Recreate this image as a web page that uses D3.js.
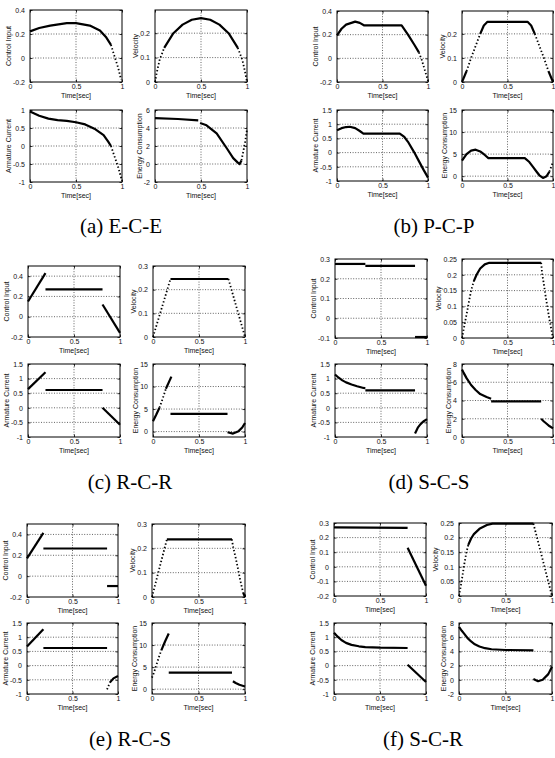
<!DOCTYPE html>
<html>
<head>
<meta charset="utf-8">
<script src="https://cdn.jsdelivr.net/npm/d3@7"></script>
<style>
body { margin: 0; background: #fff; }
svg { display: block; }
.grid { stroke: #222; stroke-width: 0.7; stroke-dasharray: 1,1.6; }
.frame { fill: none; stroke: #000; stroke-width: 1; }
.lbl { font-family: Arial, "Liberation Sans", sans-serif; font-size: 7px; fill: #111; }
.cap { font-family: "Liberation Serif", "Times New Roman", serif; font-size: 21px; fill: #000; }
</style>
</head>
<body>
<svg></svg>
<script>
var timeTicks = [0, 0.5, 1];
var yNames = ["Control Input", "Velocity", "Armature Current", "Energy Consumption"];
var captions = ["(a) E-C-E", "(b) P-C-P", "(c) R-C-R", "(d) S-C-S", "(e) R-C-S", "(f) S-C-R"];

// y ranges and ticks: input, velocity, current, energy
var eceRange = [[-0.2, 0.4], [0, 0.295], [-1, 1], [-2, 6]];
var eceTicks = [[-0.2, 0, 0.2, 0.4], [0, 0.1, 0.2], [-1, -0.5, 0, 0.5, 1], [-2, 0, 2, 4, 6]];
var pcpRange = [[-0.2, 0.4], [0, 0.295], [-1, 1.5], [-1.1, 15]];
var pcpTicks = [[-0.2, 0, 0.2, 0.4], [0, 0.1, 0.2], [-1, -0.5, 0, 0.5, 1, 1.5], [0, 5, 10, 15]];
var rcrRange = [[-0.2, 0.5], [0, 0.3], [-1, 1.5], [-1.2, 15]];
var rcrTicks = [[-0.2, 0, 0.2, 0.4], [0, 0.1, 0.2, 0.3], [-1, -0.5, 0, 0.5, 1, 1.5], [0, 5, 10, 15]];
var scsRange = [[-0.1, 0.3], [0, 0.25], [-1, 1.5], [0, 8]];
var scsTicks = [[-0.1, 0, 0.1, 0.2, 0.3], [0, 0.05, 0.1, 0.15, 0.2, 0.25], [-1, -0.5, 0, 0.5, 1, 1.5], [0, 2, 4, 6, 8]];
var rcsRange = [[-0.2, 0.5], [0, 0.3], [-1, 1.5], [-1.1, 15]];
var rcsTicks = [[-0.2, 0, 0.2, 0.4], [0, 0.1, 0.2, 0.3], [-1, -0.5, 0, 0.5, 1, 1.5], [0, 5, 10, 15]];
var scrRange = [[-0.2, 0.3], [0, 0.25], [-1, 1.5], [-2, 8]];
var scrTicks = [[-0.2, -0.1, 0, 0.1, 0.2, 0.3], [0, 0.05, 0.1, 0.15, 0.2, 0.25], [-1, -0.5, 0, 0.5, 1, 1.5], [-2, 0, 2, 4, 6, 8]];

// curves: each is a list of pieces, each piece a list of [time, value]
var eceInput = [[[0, 0.222], [0.1, 0.25], [0.22, 0.27], [0.4, 0.29], [0.5, 0.29], [0.65, 0.27], [0.76, 0.23], [0.83, 0.17], [0.88, 0.11], [0.92, 0.01], [0.96, -0.085], [0.99, -0.18]]];
var eceVelocity = [[[0, 0], [0.02, 0.04], [0.05, 0.09], [0.1, 0.14], [0.2, 0.2], [0.3, 0.235], [0.4, 0.255], [0.5, 0.262], [0.6, 0.255], [0.7, 0.235], [0.8, 0.2], [0.9, 0.14], [0.95, 0.09], [0.98, 0.04], [1, 0]]];
var eceCurrent = [[[0, 0.96], [0.1, 0.84], [0.2, 0.76], [0.3, 0.72], [0.4, 0.7], [0.5, 0.66], [0.6, 0.6], [0.7, 0.48], [0.8, 0.3], [0.85, 0.12], [0.88, 0.0], [0.92, -0.3], [0.96, -0.6], [1, -0.97]]];
var eceEnergy = [[[0, 5.1], [0.25, 5.0], [0.47, 4.85]],
                 [[0.49, 4.55], [0.56, 4.3], [0.67, 3.4], [0.78, 1.75], [0.85, 0.65], [0.9, 0.15], [0.92, 0.0], [0.94, 0.4], [0.96, 1.4], [0.98, 2.5], [1, 3.8]]];

var pcpInput = [[[0, 0.195], [0.05, 0.25], [0.1, 0.285], [0.2, 0.31], [0.25, 0.3], [0.3, 0.278], [0.71, 0.278], [0.78, 0.2], [0.85, 0.115], [0.9, 0.05], [0.93, -0.01], [1, -0.19]]];
var pcpVelocity = [[[0, 0], [0.05, 0.045], [0.1, 0.1], [0.15, 0.15], [0.2, 0.2], [0.24, 0.235], [0.28, 0.25], [0.72, 0.25], [0.76, 0.235], [0.8, 0.2], [0.85, 0.15], [0.9, 0.1], [0.95, 0.045], [1, 0]]];
var pcpCurrent = [[[0, 0.79], [0.05, 0.86], [0.1, 0.9], [0.14, 0.91], [0.2, 0.86], [0.25, 0.76], [0.29, 0.67], [0.69, 0.67], [0.74, 0.55], [0.78, 0.38], [0.85, 0.0], [0.9, -0.3], [0.95, -0.6], [1, -0.88]]];
var pcpEnergy = [[[0, 3.5], [0.05, 5.0], [0.1, 5.8], [0.15, 6.0], [0.2, 5.6], [0.25, 4.8], [0.29, 4.1], [0.69, 4.1], [0.74, 3.2], [0.78, 2.1], [0.82, 1.0], [0.85, 0.2], [0.89, -0.4], [0.93, 0.0], [0.96, 1.0], [1, 3.2]]];

var rcrInput = [[[0, 0.15], [0.19, 0.43]], [[0.19, 0.27], [0.81, 0.27]], [[0.81, 0.12], [1, -0.16]]];
var rcrVelocity = [[[0, 0], [0.19, 0.245], [0.82, 0.245], [1, 0]]];
var rcrCurrent = [[[0, 0.64], [0.19, 1.22]], [[0.19, 0.61], [0.81, 0.61]], [[0.81, 0.0], [1, -0.58]]];
var rcrEnergy = [[[0, 2.3], [0.036, 3.8], [0.07, 5.3], [0.1, 7.0], [0.14, 9.5], [0.2, 12.2]],
                 [[0.19, 3.95], [0.81, 3.95]],
                 [[0.81, -0.15], [0.87, -0.45], [0.93, 0.1], [0.97, 0.9], [1, 1.9]]];

var scsInput = [[[0, 0.275], [0.33, 0.275]], [[0.33, 0.265], [0.87, 0.265]], [[0.87, -0.095], [1, -0.095]]];
var scsVelocity = [[[0, 0], [0.02, 0.03], [0.04, 0.06], [0.06, 0.09], [0.08, 0.12], [0.1, 0.15], [0.13, 0.18], [0.16, 0.2], [0.2, 0.22], [0.25, 0.233], [0.3, 0.238], [0.87, 0.238], [0.88, 0.205], [0.9, 0.17], [0.92, 0.13], [0.94, 0.095], [0.96, 0.06], [0.98, 0.03], [1, 0]]];
var scsCurrent = [[[0, 1.14], [0.04, 1.03], [0.08, 0.94], [0.12, 0.87], [0.18, 0.8], [0.24, 0.74], [0.31, 0.68], [0.33, 0.67]],
                  [[0.33, 0.6], [0.87, 0.6]],
                  [[0.87, -0.88], [0.9, -0.68], [0.93, -0.56], [0.96, -0.47], [1, -0.39]]];
var scsEnergy = [[[0, 7.4], [0.02, 7.0], [0.05, 6.45], [0.1, 5.7], [0.15, 5.15], [0.2, 4.7], [0.27, 4.38], [0.32, 4.2]],
                 [[0.32, 3.9], [0.87, 3.9]],
                 [[0.87, 2.0], [0.9, 1.7], [0.93, 1.45], [0.96, 1.2], [1, 0.95]]];

var rcsInput = [[[0, 0.17], [0.18, 0.415]], [[0.18, 0.265], [0.88, 0.265]], [[0.88, -0.095], [1, -0.095]]];
var rcsVelocity = [[[0, 0], [0.16, 0.237], [0.86, 0.237], [0.87, 0.21], [0.9, 0.16], [0.925, 0.115], [0.95, 0.067], [0.98, 0.018], [1, 0]]];
var rcsCurrent = [[[0, 0.67], [0.18, 1.28]], [[0.18, 0.62], [0.88, 0.62]], [[0.88, -0.84], [0.91, -0.6], [0.95, -0.45], [1, -0.37]]];
var rcsEnergy = [[[0, 2.6], [0.02, 3.7], [0.04, 5.0], [0.07, 7.0], [0.1, 8.8], [0.14, 10.8], [0.18, 12.6]],
                 [[0.18, 3.75], [0.86, 3.75]],
                 [[0.87, 1.8], [0.9, 1.4], [0.94, 1.0], [1, 0.6]]];

var scrInput = [[[0, 0.27], [0.8, 0.266]], [[0.8, 0.13], [1, -0.13]]];
var scrVelocity = [[[0, 0], [0.02, 0.035], [0.04, 0.075], [0.06, 0.115], [0.08, 0.15], [0.1, 0.175], [0.13, 0.197], [0.16, 0.212], [0.22, 0.23], [0.3, 0.243], [0.36, 0.248], [0.8, 0.248], [1, 0]]];
var scrCurrent = [[[0, 1.16], [0.04, 1.02], [0.08, 0.9], [0.13, 0.8], [0.19, 0.73], [0.27, 0.68], [0.34, 0.65], [0.5, 0.63], [0.8, 0.62]], [[0.8, 0.03], [1, -0.58]]];
var scrEnergy = [[[0, 7.45], [0.03, 6.9], [0.055, 6.5], [0.09, 5.9], [0.13, 5.4], [0.17, 5.0], [0.22, 4.7], [0.28, 4.45], [0.35, 4.3], [0.5, 4.2], [0.8, 4.15]],
                 [[0.8, 0.1], [0.85, -0.2], [0.9, 0.0], [0.96, 0.8], [1, 1.85]]];

// layout of each group: [x, y, w, h] of the four axes, caption centre
var groups = [
  { curves: [eceInput, eceVelocity, eceCurrent, eceEnergy], range: eceRange, ticks: eceTicks,
    boxes: [[30, 10, 92, 72], [155, 10, 92, 72], [30, 110, 92, 72], [155, 110, 92, 72]], cap: [121, 233] },
  { curves: [pcpInput, pcpVelocity, pcpCurrent, pcpEnergy], range: pcpRange, ticks: pcpTicks,
    boxes: [[337, 11, 91, 71], [462, 11, 91, 71], [337, 110, 91, 71], [462, 110, 91, 71]], cap: [434, 233] },
  { curves: [rcrInput, rcrVelocity, rcrCurrent, rcrEnergy], range: rcrRange, ticks: rcrTicks,
    boxes: [[28, 266, 92, 71], [153, 266, 92, 71], [28, 364, 92, 73], [153, 364, 92, 73]], cap: [130, 489] },
  { curves: [scsInput, scsVelocity, scsCurrent, scsEnergy], range: scsRange, ticks: scsTicks,
    boxes: [[335, 259, 92, 79], [462, 259, 91, 79], [335, 364, 92, 73], [462, 364, 91, 73]], cap: [429, 489] },
  { curves: [rcsInput, rcsVelocity, rcsCurrent, rcsEnergy], range: rcsRange, ticks: rcsTicks,
    boxes: [[27, 524, 91, 73], [152, 524, 93, 73], [27, 623, 91, 71], [152, 623, 93, 71]], cap: [130, 746] },
  { curves: [scrInput, scrVelocity, scrCurrent, scrEnergy], range: scrRange, ticks: scrTicks,
    boxes: [[334, 523, 92, 73], [459, 523, 93, 73], [334, 623, 92, 71], [459, 623, 93, 71]], cap: [423, 746] }
];

var svg = d3.select("svg").attr("width", 555).attr("height", 758);

function fmt(v) { return String(+v.toFixed(3)); }

function drawPanel(box, curve, range, ticks, name) {
  var x = d3.scaleLinear().domain([0, 1]).range([box[0], box[0] + box[2]]);
  var y = d3.scaleLinear().domain(range).range([box[1] + box[3], box[1]]);
  var g = svg.append("g");

  // dotted grid
  g.selectAll(".gx").data(timeTicks.filter(function(t){ return t > 0 && t < 1; }))
    .enter().append("line").attr("class", "grid")
    .attr("x1", function(d){ return x(d); }).attr("x2", function(d){ return x(d); })
    .attr("y1", box[1]).attr("y2", box[1] + box[3]);
  g.selectAll(".gy").data(ticks.filter(function(t){ return t > range[0] && t < range[1]; }))
    .enter().append("line").attr("class", "grid")
    .attr("x1", box[0]).attr("x2", box[0] + box[2])
    .attr("y1", function(d){ return y(d); }).attr("y2", function(d){ return y(d); });

  // axes, ticks pointing in
  var xa = g.append("g").attr("transform", "translate(0," + (box[1] + box[3]) + ")")
    .call(d3.axisBottom(x).tickValues(timeTicks).tickSize(-2.5).tickPadding(2).tickFormat(fmt));
  var ya = g.append("g").attr("transform", "translate(" + box[0] + ",0)")
    .call(d3.axisLeft(y).tickValues(ticks).tickSize(-2.5).tickPadding(5).tickFormat(fmt));
  g.append("g").attr("transform", "translate(" + (box[0] + box[2]) + ",0)")
    .call(d3.axisRight(y).tickValues(ticks).tickSize(-2.5).tickFormat(""));
  g.append("g").attr("transform", "translate(0," + box[1] + ")")
    .call(d3.axisTop(x).tickValues(timeTicks).tickSize(-2.5).tickFormat(""));
  g.selectAll(".domain").remove();
  g.selectAll(".tick line").attr("stroke", "#000").attr("stroke-width", 0.8);
  g.selectAll(".tick text").attr("class", "lbl").attr("font-size", null).attr("font-family", null);

  g.append("rect").attr("class", "frame")
    .attr("x", box[0]).attr("y", box[1]).attr("width", box[2]).attr("height", box[3]);

  // curve: steep stretches look dotted (sampled points drift apart)
  curve.forEach(function(piece) {
    var runs = [], cur = null;
    for (var i = 1; i < piece.length; i++) {
      var dx = Math.abs(x(piece[i][0]) - x(piece[i - 1][0]));
      var dy = Math.abs(y(piece[i][1]) - y(piece[i - 1][1]));
      var dotted = dy > 2.4 * Math.max(dx, 0.01);
      if (!cur || cur.dotted !== dotted) { cur = { dotted: dotted, pts: [piece[i - 1]] }; runs.push(cur); }
      cur.pts.push(piece[i]);
    }
    runs.forEach(function(r) {
      g.append("path")
        .attr("d", d3.line().x(function(d){ return x(d[0]); }).y(function(d){ return y(d[1]); })(r.pts))
        .attr("fill", "none").attr("stroke", "#000")
        .attr("stroke-width", r.dotted ? 1.8 : 2.2)
        .attr("stroke-dasharray", r.dotted ? "1.4,2.2" : null)
        .attr("stroke-linejoin", "round");
    });
  });

  // labels
  var left = ya.node().getBBox().x + box[0];
  g.append("text").attr("class", "lbl")
    .attr("transform", "translate(" + (left - 2) + "," + (box[1] + box[3] / 2) + ") rotate(-90)")
    .attr("text-anchor", "middle").text(name);
  g.append("text").attr("class", "lbl").attr("text-anchor", "middle")
    .attr("x", box[0] + box[2] / 2).attr("y", box[1] + box[3] + 16).text("Time[sec]");
}

groups.forEach(function(gr, gi) {
  for (var k = 0; k < 4; k++) {
    drawPanel(gr.boxes[k], gr.curves[k], gr.range[k], gr.ticks[k], yNames[k]);
  }
  svg.append("text").attr("class", "cap").attr("text-anchor", "middle")
    .attr("x", gr.cap[0]).attr("y", gr.cap[1]).text(captions[gi]);
});
</script>
</body>
</html>
